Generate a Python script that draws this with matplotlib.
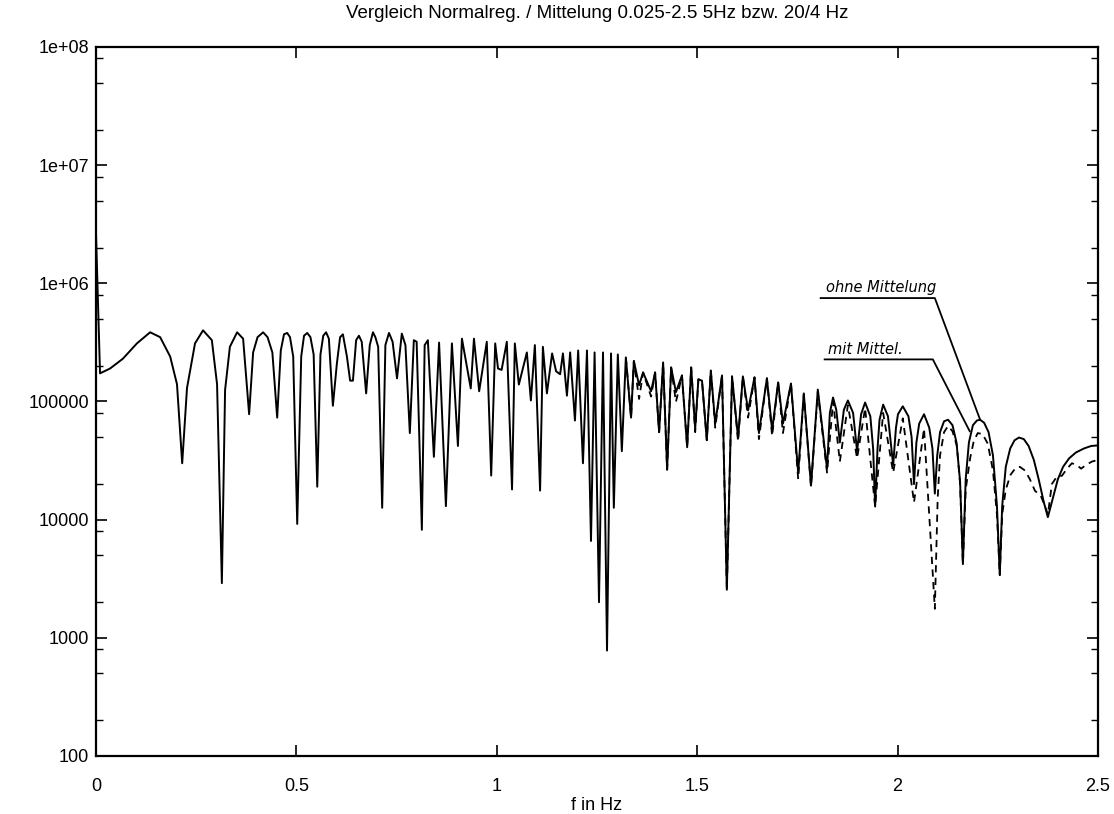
import matplotlib
matplotlib.use("Agg")
import matplotlib.pyplot as plt
from matplotlib.ticker import LogLocator, NullFormatter

# solid curve: ohne Mittelung
f_ohne = [
    0.000, 0.010, 0.035, 0.067, 0.102, 0.135, 0.160, 0.185, 0.202, 0.215,
    0.227, 0.247, 0.267, 0.289, 0.302, 0.314, 0.322, 0.334, 0.352, 0.367,
    0.382, 0.392, 0.403, 0.417, 0.428, 0.440, 0.452, 0.461, 0.469, 0.477,
    0.484, 0.492, 0.502, 0.512, 0.519, 0.527, 0.535, 0.543, 0.552, 0.560,
    0.567, 0.574, 0.581, 0.591, 0.601, 0.609, 0.616, 0.626, 0.634, 0.641,
    0.649, 0.656, 0.663, 0.674, 0.683, 0.691, 0.697, 0.704, 0.714, 0.722,
    0.731, 0.740, 0.751, 0.763, 0.772, 0.783, 0.793, 0.800, 0.813, 0.820,
    0.828, 0.843, 0.856, 0.873, 0.888, 0.903, 0.913, 0.935, 0.943, 0.956,
    0.975, 0.986, 0.996, 1.003, 1.012, 1.025, 1.038, 1.045, 1.055, 1.075,
    1.085, 1.095, 1.108, 1.115, 1.125, 1.138, 1.148, 1.158, 1.165, 1.175,
    1.183, 1.195, 1.203, 1.215, 1.225, 1.235, 1.244, 1.255, 1.265, 1.275,
    1.285, 1.292, 1.302, 1.312, 1.322, 1.335, 1.342, 1.355, 1.365, 1.385,
    1.395, 1.405, 1.415, 1.425, 1.435, 1.447, 1.462, 1.475, 1.485, 1.495,
    1.503, 1.512, 1.524, 1.534, 1.545, 1.562, 1.574, 1.587, 1.602, 1.614,
    1.627, 1.643, 1.654, 1.674, 1.687, 1.702, 1.714, 1.734, 1.752, 1.766,
    1.784, 1.801, 1.824, 1.831, 1.839, 1.847, 1.856, 1.866, 1.876, 1.889,
    1.899, 1.909, 1.919, 1.932, 1.939, 1.944, 1.950, 1.955, 1.964, 1.976,
    1.989, 1.996, 2.001, 2.013, 2.027, 2.035, 2.041, 2.047, 2.054, 2.066,
    2.079, 2.087, 2.093, 2.099, 2.106, 2.116, 2.126, 2.137, 2.147, 2.156,
    2.163, 2.170, 2.178, 2.188, 2.198, 2.206, 2.216, 2.227, 2.238, 2.248,
    2.255, 2.261, 2.270, 2.281, 2.292, 2.303, 2.315, 2.327, 2.340, 2.352,
    2.365, 2.375, 2.387, 2.400, 2.413, 2.428, 2.445, 2.465, 2.483, 2.500,
]
ohne = [
    2.6e6, 1.73e5, 1.9e5, 2.3e5, 3.1e5, 3.85e5, 3.5e5, 2.4e5, 1.4e5, 3.0e4,
    1.3e5, 3.1e5, 4.0e5, 3.3e5, 1.4e5, 2.9e3, 1.25e5, 2.9e5, 3.85e5, 3.4e5,
    7.8e4, 2.6e5, 3.5e5, 3.85e5, 3.5e5, 2.6e5, 7.3e4, 2.7e5, 3.7e5, 3.8e5,
    3.5e5, 2.4e5, 9.2e3, 2.4e5, 3.6e5, 3.8e5, 3.5e5, 2.5e5, 1.9e4, 2.5e5,
    3.6e5, 3.85e5, 3.4e5, 9.2e4, 2.1e5, 3.5e5, 3.7e5, 2.4e5, 1.5e5, 1.5e5,
    3.3e5, 3.6e5, 3.2e5, 1.17e5, 3.0e5, 3.85e5, 3.5e5, 2.9e5, 1.26e4, 3.0e5,
    3.8e5, 3.2e5, 1.57e5, 3.75e5, 3.0e5, 5.4e4, 3.3e5, 3.2e5, 8.2e3, 3.0e5,
    3.3e5, 3.4e4, 3.15e5, 1.3e4, 3.1e5, 4.2e4, 3.4e5, 1.29e5, 3.4e5, 1.22e5,
    3.2e5, 2.36e4, 3.1e5, 1.9e5, 1.85e5, 3.2e5, 1.8e4, 3.1e5, 1.39e5, 2.6e5,
    1.02e5, 3.0e5, 1.76e4, 2.9e5, 1.17e5, 2.55e5, 1.8e5, 1.7e5, 2.55e5, 1.12e5,
    2.6e5, 6.9e4, 2.7e5, 3.0e4, 2.7e5, 6.6e3, 2.6e5, 2.0e3, 2.6e5, 7.8e2,
    2.55e5, 1.26e4, 2.5e5, 3.8e4, 2.36e5, 7.3e4, 2.2e5, 1.37e5, 1.76e5, 1.22e5,
    1.76e5, 5.5e4, 2.14e5, 2.65e4, 1.94e5, 1.2e5, 1.66e5, 4.1e4, 1.94e5, 5.9e4,
    1.54e5, 1.5e5, 4.7e4, 1.83e5, 6.5e4, 1.66e5, 2.55e3, 1.63e5, 4.9e4, 1.63e5,
    8.4e4, 1.6e5, 5.4e4, 1.57e5, 5.7e4, 1.45e5, 6.5e4, 1.42e5, 2.5e4, 1.17e5,
    1.94e4, 1.26e5, 2.7e4, 8.0e4, 1.08e5, 8.5e4, 4.5e4, 8.5e4, 1.02e5, 8.0e4,
    3.8e4, 7.8e4, 9.8e4, 7.5e4, 4.0e4, 1.29e4, 4.0e4, 7.0e4, 9.4e4, 7.5e4,
    2.9e4, 6.0e4, 7.8e4, 9.1e4, 7.5e4, 5.0e4, 2.0e4, 4.5e4, 6.5e4, 7.8e4,
    6.0e4, 4.0e4, 1.66e4, 3.5e4, 5.5e4, 6.8e4, 7.0e4, 6.3e4, 4.5e4, 2.1e4,
    4.2e3, 2.2e4, 4.5e4, 6.3e4, 6.9e4, 7.0e4, 6.6e4, 5.5e4, 3.5e4, 1.3e4,
    3.4e3, 1.3e4, 2.8e4, 4.0e4, 4.7e4, 4.95e4, 4.8e4, 4.2e4, 3.2e4, 2.2e4,
    1.4e4, 1.05e4, 1.5e4, 2.2e4, 2.8e4, 3.3e4, 3.7e4, 4.0e4, 4.2e4, 4.25e4,
]

# dashed curve: mit Mittelung (lies on top of the solid one below ~1.3 Hz)
f_mit = [
    1.322, 1.335, 1.342, 1.355, 1.365, 1.385, 1.395, 1.405, 1.415, 1.425,
    1.435, 1.447, 1.462, 1.475, 1.485, 1.495, 1.503, 1.512, 1.524, 1.534,
    1.545, 1.562, 1.574, 1.587, 1.602, 1.614, 1.627, 1.643, 1.654, 1.674,
    1.687, 1.702, 1.714, 1.734, 1.752, 1.766, 1.784, 1.801, 1.824, 1.839,
    1.856, 1.876, 1.899, 1.919, 1.944, 1.964, 1.989, 2.013, 2.041, 2.066,
    2.093, 2.100, 2.106, 2.116, 2.126, 2.137, 2.148, 2.156, 2.163, 2.170,
    2.181, 2.190, 2.200, 2.212, 2.225, 2.238, 2.248, 2.255, 2.261, 2.270,
    2.282, 2.295, 2.305, 2.318, 2.330, 2.343, 2.357, 2.368, 2.375, 2.385,
    2.397, 2.410, 2.423, 2.435, 2.447, 2.458, 2.470, 2.485, 2.500,
]
mit = [
    2.36e5, 7.3e4, 2.2e5, 1.05e5, 1.76e5, 1.1e5, 1.76e5, 5.5e4, 2.14e5, 2.65e4,
    1.94e5, 9.9e4, 1.66e5, 4.1e4, 1.94e5, 5.5e4, 1.54e5, 1.5e5, 4.7e4, 1.83e5,
    6.0e4, 1.66e5, 2.55e3, 1.63e5, 4.6e4, 1.63e5, 7.3e4, 1.6e5, 4.8e4, 1.57e5,
    5.1e4, 1.45e5, 5.4e4, 1.42e5, 2.2e4, 1.15e5, 1.9e4, 1.2e5, 2.5e4, 1.0e5,
    3.1e4, 9.3e4, 3.3e4, 8.8e4, 1.29e4, 8.0e4, 2.5e4, 7.2e4, 1.4e4, 5.9e4,
    1.76e3, 1.5e4, 3.5e4, 5.5e4, 6.2e4, 5.6e4, 4.2e4, 2.0e4, 4.2e3, 1.8e4,
    3.3e4, 4.6e4, 5.4e4, 5.3e4, 4.4e4, 2.6e4, 1.1e4, 3.4e3, 1.1e4, 1.8e4,
    2.4e4, 2.75e4, 2.8e4, 2.6e4, 2.2e4, 1.75e4, 1.6e4, 1.3e4, 1.1e4, 2.0e4,
    2.3e4, 2.35e4, 2.7e4, 3.0e4, 2.9e4, 2.7e4, 2.9e4, 3.1e4, 3.2e4,
]

x_ticks = [0, 0.5, 1, 1.5, 2, 2.5]
x_labels = ["0", "0.5", "1", "1.5", "2", "2.5"]
y_ticks = [1e2, 1e3, 1e4, 1e5, 1e6, 1e7, 1e8]
y_labels = ["100", "1000", "10000", "100000", "1e+06", "1e+07", "1e+08"]

plt.rcParams["font.family"] = ["Liberation Sans", "DejaVu Sans"]

fig = plt.figure(figsize=(11.14, 8.14), dpi=100)
ax = fig.add_axes([0.0862, 0.0713, 0.8994, 0.871])

ax.plot(f_ohne, ohne, color="black", linewidth=1.4)
ax.plot(f_mit, mit, color="black", linewidth=1.3, linestyle=(0, (4, 3)))

ax.set_yscale("log")
ax.set_xlim(0, 2.5)
ax.set_ylim(100, 1e8)
ax.set_xticks(x_ticks)
ax.set_xticklabels(x_labels)
ax.set_yticks(y_ticks)
ax.set_yticklabels(y_labels)
ax.yaxis.set_minor_locator(LogLocator(base=10, subs=(2.0, 5.0, 8.0), numticks=20))
ax.yaxis.set_minor_formatter(NullFormatter())
ax.tick_params(which="both", direction="in", top=True, right=True, labelsize=13)
ax.tick_params(which="major", length=8, width=1.2)
ax.tick_params(which="minor", length=5, width=1.0)
ax.tick_params(axis="x", pad=16)
ax.tick_params(axis="y", pad=5)
for sp in ax.spines.values():
    sp.set_linewidth(1.6)

ax.set_xlabel("f in Hz", fontsize=13, labelpad=1)
ax.set_title("Vergleich Normalreg. / Mittelung 0.025-2.5 5Hz bzw. 20/4 Hz",
             fontsize=13.5, pad=21)

# handwritten labels with leader lines
hand = dict(fontsize=10.5, style="italic", family="DejaVu Sans", va="bottom")
ax.text(1.822, 7.9e5, "ohne Mittelung", **hand)
ax.plot([1.808, 2.093, 2.206], [7.5e5, 7.5e5, 7.0e4], color="black", linewidth=1.3)
ax.text(1.826, 2.4e5, "mit Mittel.", **hand)
ax.plot([1.818, 2.088, 2.180], [2.27e5, 2.27e5, 5.6e4], color="black", linewidth=1.3)

fig.savefig("out.png", dpi=100)
